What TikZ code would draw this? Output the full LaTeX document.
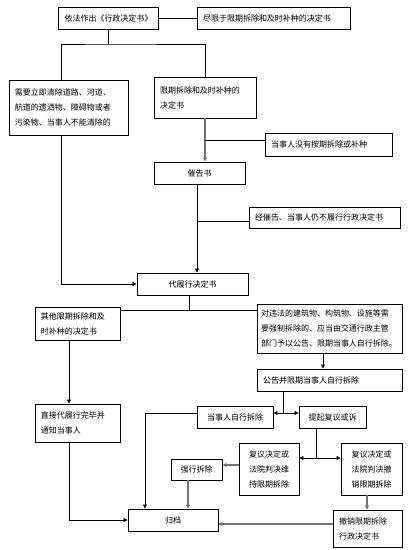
\documentclass[tikz,border=0pt]{standalone}
\usepackage{fontspec}
\setmainfont{Noto Sans CJK SC}
\usetikzlibrary{arrows.meta,positioning}
\definecolor{linegray}{RGB}{115,115,115}

\begin{document}
\begin{tikzpicture}[x=1pt, y=-1pt,
    box/.style={draw, line width=0.9pt, inner xsep=6pt, inner ysep=0pt, align=left, font=\fontsize{8}{15}\selectfont},
    cbox/.style={box, align=center},
    link/.style={line width=0.8pt},
    relation/.style={-{Triangle[length=4pt,width=4pt]}, line width=0.8pt},
    grayrel/.style={relation, draw=linegray, line width=1.3pt},
    both/.style={{Triangle[length=4pt,width=4pt]}-{Triangle[length=4pt,width=4pt]}, line width=0.8pt}
]
\useasboundingbox (0,0) rectangle (418,550);

% top
\node[cbox, minimum width=97pt, minimum height=22pt] (decide) at (108.5,18) {依法作出《行政决定书》};
\node[box, text width=141pt, minimum height=22pt] (only) at (273.5,18) {尽限于限期拆除和及时补种的决定书};
\node[box, text width=107pt, minimum height=55pt] (urgent) at (68.5,107.5) {需要立即清除道路、河道、\\航道的遗洒物、障碍物或者\\污染物、当事人不能清除的};
\node[box, text width=90pt, minimum height=41pt] (limit) at (205,97.5) {限期拆除和及时补种的\\决定书};
\node[box, text width=115pt, minimum height=23pt] (notdone) at (328.5,144.5) {当事人没有按期拆除或补种};
\node[cbox, minimum width=91pt, minimum height=22pt] (urge) at (199.5,173) {催告书};
\node[box, text width=139pt, minimum height=21pt] (still) at (324.5,217.5) {经催告、当事人仍不履行行政决定书};
\node[cbox, minimum width=111pt, minimum height=22pt] (proxy) at (192.5,284) {代履行决定书};

% middle
\node[box, text width=73pt, minimum height=33pt] (other) at (77.5,323.5) {其他限期拆除和及\\时补种的决定书};
\node[box, inner xsep=4pt, text width=137pt, minimum height=49pt] (illegal) at (329.5,328.5) {对违法的建筑物、构筑物、设施等需\\要强制拆除的、应当由交通行政主管\\部门予以公告、限期当事人自行拆除。};
\node[box, text width=133pt, minimum height=22pt] (notice) at (329.5,380) {公告并限期当事人自行拆除};
\node[box, text width=73pt, minimum height=38pt] (direct) at (77.5,423) {直接代履行完毕并\\通知当事人};
\node[cbox, minimum width=76pt, minimum height=22pt] (self) at (235,417) {当事人自行拆除};
\node[cbox, minimum width=67pt, minimum height=22pt] (appeal) at (332.5,417) {提起复议或诉};

% bottom
\node[cbox, minimum width=60pt, minimum height=52pt] (keep) at (269,469) {复议决定或\\法院判决维\\持限期拆除};
\node[cbox, minimum width=61pt, minimum height=52pt] (cancel) at (371.5,469) {复议决定或\\法院判决撤\\销限期拆除};
\node[cbox, minimum width=51pt, minimum height=21pt] (force) at (196.5,469.5) {强行拆除};
\node[cbox, minimum width=90pt, minimum height=22pt] (archive) at (173,520) {归档};
\node[box, text width=57pt, minimum height=37pt] (revoke) at (367.5,528.5) {撤销限期拆除\\行政决定书};

\coordinate (fork1) at (108.5,44);
\coordinate (trunk) at (197,190);
\coordinate (fork2) at (189,310);
\coordinate (fork3) at (283,413);
\coordinate (fork4) at (316,458);

\draw[link] (decide.east) -- (only.west);
\draw[link] (decide.south) -- (fork1);
\draw[link] ([xshift=-7.5pt]urgent.north) |- (fork1) -| (limit.north);
\draw[grayrel] (limit.south) -- (limit.south |- urge.north);
\draw[link] ([yshift=4.5pt]notdone.west) -- ([yshift=4.5pt]notdone.west -| limit.south);
\draw[relation] (urge.south -| trunk) -- (proxy.north -| trunk);
\draw[link] ([yshift=-3.5pt]still.west) -- ([yshift=-3.5pt]still.west -| trunk);
\draw[relation] ([xshift=-7.5pt]urgent.south) |- (proxy.west);

\draw[link] (proxy.south -| fork2) -- (fork2);
\draw[link] (other.east |- fork2) -- (illegal.west |- fork2);
\draw[relation] ([xshift=-8.5pt]other.south) -- ([xshift=-8.5pt]direct.north);
\draw[relation] ([xshift=-6.5pt]illegal.south) -- ([xshift=-6.5pt]notice.north);
\draw[link] (notice.south -| fork3) -- (fork3);
\draw[both] (self.east |- fork3) -- (appeal.west |- fork3);
\draw[relation] (self.west |- fork3) -| ([xshift=-28pt]archive.north);

\draw[link] (appeal.south -| fork4) -- (fork4);
\draw[both] (keep.east |- fork4) -- (cancel.west |- fork4);
\draw[grayrel] ([yshift=4pt]keep.west) -- ([yshift=4pt]keep.west -| force.east);
\draw[grayrel] ([xshift=-8.5pt]force.south) -- ([xshift=-8.5pt]force.south |- archive.north);
\draw[grayrel] ([xshift=-4.5pt]cancel.south) -- ([xshift=-4.5pt]cancel.south |- revoke.north);
\draw[grayrel] ([yshift=4.5pt]revoke.west) -- ([yshift=4.5pt]revoke.west -| archive.east);
\draw[relation] ([xshift=-8.5pt]direct.south) |- (archive.west);
\end{tikzpicture}
\end{document}
